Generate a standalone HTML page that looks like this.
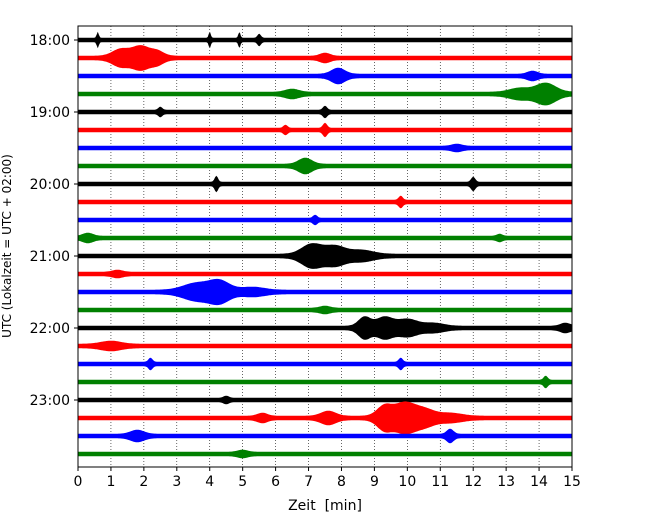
<!DOCTYPE html>
<html><head><meta charset="utf-8"><style>
body{margin:0;background:#fff}
text{font-family:"DejaVu Sans","Liberation Sans",sans-serif}
</style></head><body>
<svg id="chart" width="650" height="520" viewBox="0 0 650 520" xmlns="http://www.w3.org/2000/svg">
<rect width="650" height="520" fill="#fff"/>
<g id="grid"></g>
<g id="traces"></g>
<rect x="78" y="26" width="494" height="441" fill="none" stroke="#000" stroke-width="1"/>
<g id="xaxis"></g>
<g id="yaxis"></g>
<text x="325" y="510" font-size="14" text-anchor="middle" xml:space="preserve">Zeit  [min]</text>
<text transform="translate(11,246) rotate(-90)" font-size="12" text-anchor="middle">UTC (Lokalzeit = UTC + 02:00)</text>
</svg>
<script>
const xTicks=[0,1,2,3,4,5,6,7,8,9,10,11,12,13,14,15];
const hourLabels=["18:00","19:00","20:00","21:00","22:00","23:00"];
const traceColors=["#000","#f00","#00f","#008000"];
const baseAmp=2.3;
// events per trace: [time(min), amplitude(px), width(min)]
const traceEvents=[
[[0.6,6,0.03],[4.0,6,0.03],[4.9,6,0.03],[5.5,4,0.05]],
[[1.3,7,0.25],[1.9,10,0.25],[2.4,5,0.2],[7.5,3,0.15]],
[[7.9,6,0.2],[13.8,3,0.15]],
[[14.2,9,0.3],[13.4,4,0.3],[6.5,3,0.2]],
[[7.5,4,0.06],[2.5,3,0.06]],
[[7.5,5,0.06],[6.3,3,0.06]],
[[11.5,2,0.15]],
[[6.9,6,0.2]],
[[4.2,6,0.05],[12,5,0.06]],
[[9.8,4,0.06]],
[[7.2,3,0.06]],
[[0.3,3,0.15],[12.8,2,0.08]],
[[7.1,10,0.3],[7.8,8,0.3],[8.6,4,0.35]],
[[1.2,2,0.15]],
[[3.6,7,0.4],[4.3,9,0.3],[5.3,3,0.35]],
[[7.5,2,0.15]],
[[8.7,9,0.18],[9.3,9,0.25],[10.0,7,0.3],[10.8,3,0.3],[14.8,3,0.15]],
[[1.0,3,0.3]],
[[2.2,4,0.06],[9.8,4,0.06]],
[[14.2,4,0.06]],
[[4.5,2,0.08]],
[[7.6,5,0.22],[9.3,10,0.22],[9.9,13,0.3],[10.5,7,0.3],[11.3,3,0.35],[5.6,3,0.15]],
[[1.8,4,0.2],[11.3,5,0.1]],
[[5,2,0.15]]
];
const X0=78,X1=572,Y0=26,Y1=467,firstY=40,spacing=18;
const xs=t=>X0+(t-xTicks[0])/(xTicks[xTicks.length-1]-xTicks[0])*(X1-X0);
const ys=i=>firstY+i*spacing;
const NS="http://www.w3.org/2000/svg";
function mk(tag,attrs,parent){const e=document.createElementNS(NS,tag);for(const k in attrs)e.setAttribute(k,attrs[k]);parent.appendChild(e);return e;}
const grid=document.getElementById('grid'),xa=document.getElementById('xaxis'),ya=document.getElementById('yaxis'),tr=document.getElementById('traces');
xTicks.forEach(t=>{
  const x=xs(t);
  if(t>xTicks[0]&&t<xTicks[xTicks.length-1]){
    const g=mk('line',{x1:x,x2:x,y1:Y0,y2:Y1,stroke:'#000','stroke-width':0.6,'stroke-dasharray':'1,2'},grid);
    
    
  }
  const tk=mk('line',{x1:x,x2:x,y1:Y1,y2:Y1+4,stroke:'#000'},xa);
  
  
  const lb=mk('text',{x:x,y:Y1+19,'font-size':14,'text-anchor':'middle'},xa);
  lb.textContent=t;
  
  
});
hourLabels.forEach((h,i)=>{
  const y=ys(i*4);
  const tk=mk('line',{x1:X0-4,x2:X0,y1:y,y2:y,stroke:'#000'},ya);
  
  
  const lb=mk('text',{x:X0-8,y:y+5,'font-size':14,'text-anchor':'end'},ya);
  lb.textContent=h;
  
  
});
traceEvents.forEach((ev,i)=>{
  const y=ys(i),N=400,top=[],bot=[];
  for(let k=0;k<=N;k++){
    const t=15*k/N;let a=baseAmp;
    ev.forEach(([c,A,w])=>{a+=A*Math.exp(-((t-c)*(t-c))/(2*w*w));});
    top.push(xs(t).toFixed(1)+','+(y-a).toFixed(1));
    bot.unshift(xs(t).toFixed(1)+','+(y+a).toFixed(1));
  }
  const p=mk('polygon',{points:top.concat(bot).join(' '),fill:traceColors[i%4]},tr);
  
  
});
</script>
</body></html>
